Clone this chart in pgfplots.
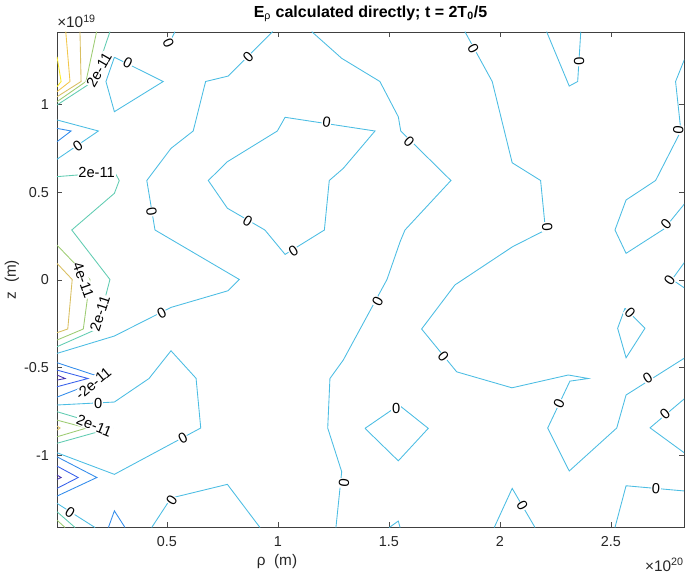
\documentclass[border=0pt]{standalone}
\usepackage{fontspec}
\setmainfont{Liberation Sans}
\usepackage{pgfplots}
\pgfplotsset{compat=1.18}
\definecolor{cm6}{rgb}{0.28,0.20,0.70}
\definecolor{cm4}{rgb}{0.22,0.38,0.92}
\definecolor{cm2}{rgb}{0.20,0.55,0.92}
\definecolor{c0}{rgb}{0.30,0.74,0.89}
\definecolor{c2}{rgb}{0.38,0.80,0.70}
\definecolor{c4}{rgb}{0.62,0.80,0.45}
\definecolor{c6}{rgb}{0.85,0.75,0.38}
\definecolor{c8}{rgb}{0.95,0.78,0.30}
\definecolor{c10}{rgb}{0.98,0.92,0.15}
\tikzset{lb/.style={font=\fontsize{11}{12}\selectfont, fill=white, inner sep=0.5pt, text=black}}
\begin{document}
\begin{tikzpicture}
\begin{axis}[
  scale only axis, width=470.25pt, height=371.25pt,
  xmin=0.0045, xmax=2.829, ymin=-1.407, ymax=1.413,
  xtick={0.5,1,1.5,2,2.5}, xticklabels={0.5,1,1.5,2,2.5},
  ytick={-1,-0.5,0,0.5,1}, yticklabels={-1,-0.5,0,0.5,1},
  tick align=inside, major tick length=4pt,
  axis line style={draw=black!75, line width=0.5pt},
  every tick/.style={draw=black!70, line width=0.5pt},
  tick label style={font=\fontsize{10.8}{12}\selectfont, text=black!85},
  xticklabel style={yshift=-3.5pt},
  yticklabel style={xshift=-2.5pt},
  every axis plot/.append style={line width=0.65pt},
]
% ---- zero contours (cyan)
\addplot[c0] coordinates {(0.976,1.415)(0.776,1.162)(0.674,1.131)(0.618,0.849)(0.518,0.750)(0.409,0.567)(0.446,0.285)(0.826,0.003)(0.775,-0.061)(0.518,-0.156)(0.263,-0.319)(0.0045,-0.418)};
\addplot[c0] coordinates {(1.032,0.927)(1.437,0.849)(1.294,0.636)(1.231,0.567)(1.209,0.285)(1.032,0.146)(0.941,0.285)(0.772,0.409)(0.686,0.567)(0.772,0.674)(0.997,0.849)(1.032,0.927)};
\addplot[c0] coordinates {(1.152,1.415)(1.287,1.263)(1.459,1.131)(1.542,0.930)(1.553,0.849)(1.779,0.567)(1.572,0.285)(1.550,0.218)(1.491,0.003)(1.294,-0.456)(1.234,-0.561)(1.224,-0.843)(1.287,-1.092)(1.261,-1.41)};
\addplot[c0] coordinates {(1.842,1.415)(1.965,1.131)(2.055,0.668)(2.183,0.567)(2.205,0.285)(2.057,0.190)(1.797,-0.028)(1.647,-0.279)(1.805,-0.523)(2.054,-0.614)(2.308,-0.541)(2.398,-0.561)(2.315,-0.576)(2.215,-0.843)(2.312,-1.088)(2.526,-0.843)(2.568,-0.655)(2.833,-0.443)};
\addplot[c0] coordinates {(2.210,1.415)(2.312,1.105)(2.350,1.131)(2.364,1.415)};
\addplot[c0] coordinates {(2.833,1.263)(2.791,1.131)(2.815,0.849)(2.701,0.567)(2.568,0.456)(2.518,0.285)(2.568,0.152)(2.739,0.291)(2.833,0.437)};
\addplot[c0] coordinates {(2.833,0.104)(2.775,0.003)(2.833,-0.047)};
\addplot[c0] coordinates {(2.563,-0.161)(2.653,-0.275)(2.568,-0.443)(2.530,-0.275)(2.563,-0.161)};
\addplot[c0] coordinates {(2.833,-0.674)(2.676,-0.842)(2.833,-0.987)};
\addplot[c0] coordinates {(2.518,-1.41)(2.568,-1.172)(2.833,-1.202)};
\addplot[c0] coordinates {(1.974,-1.41)(2.055,-1.187)(2.158,-1.41)};
\addplot[c0] coordinates {(1.392,-0.845)(1.545,-0.712)(1.677,-0.845)(1.542,-1.030)(1.392,-0.845)};
\addplot[c0] coordinates {(1.501,-1.41)(1.542,-1.373)(1.550,-1.41)};
\addplot[c0] coordinates {(0.0045,-0.712)(0.263,-0.695)(0.419,-0.561)(0.518,-0.403)(0.631,-0.560)(0.652,-0.843)(0.263,-1.107)(0.0045,-0.984)};
\addplot[c0] coordinates {(0.431,-1.41)(0.518,-1.242)(0.772,-1.164)(0.919,-1.41)};
\addplot[c0] coordinates {(0.0045,-1.272)(0.100,-1.349)(0.176,-1.41)};
\addplot[c0] coordinates {(0.263,1.269)(0.225,1.131)(0.263,0.959)(0.483,1.131)(0.263,1.269)};
\addplot[c0] coordinates {(0.536,1.415)(0.522,1.379)};
\addplot[c0] coordinates {(0.0045,0.912)(0.191,0.849)(0.0045,0.688)};
% ---- negative contours
\addplot[cm2] coordinates {(0.0045,0.864)(0.068,0.849)(0.0045,0.788)};
\addplot[cm6] coordinates {(0.0045,-0.541)(0.041,-0.561)(0.0045,-0.570)};
\addplot[cm4] coordinates {(0.0045,-0.513)(0.144,-0.561)(0.0045,-0.608)};
\addplot[cm2] coordinates {(0.0045,-0.471)(0.221,-0.561)(0.0045,-0.667)};
\addplot[cm2] coordinates {(0.0045,-1.007)(0.184,-1.125)(0.0045,-1.231)};
\addplot[cm4] coordinates {(0.0045,-1.060)(0.100,-1.125)(0.0045,-1.187)};
\addplot[cm6] coordinates {(0.0045,-1.111)(0.023,-1.125)(0.0045,-1.136)};
\addplot[cm2] coordinates {(0.236,-1.41)(0.263,-1.315)(0.311,-1.41)};
% ---- positive contours
\addplot[c10] coordinates {(0.0045,1.272)(0.023,1.131)(0.0045,1.101)};
\addplot[c8] coordinates {(0.044,1.415)(0.063,1.131)(0.0045,1.073)};
\addplot[c6] coordinates {(0.108,1.415)(0.113,1.131)(0.0045,1.044)};
\addplot[c4] coordinates {(0.183,1.415)(0.135,1.131)(0.0045,1.016)};
\addplot[c2] coordinates {(0.243,1.415)(0.167,1.131)(0.0045,0.997)};
\addplot[c2] coordinates {(0.0045,0.589)(0.264,0.615)(0.285,0.567)(0.263,0.494)(0.071,0.285)(0.243,0.003)(0.185,-0.279)(0.0045,-0.380)};
\addplot[c4] coordinates {(0.0045,0.199)(0.153,0.003)(0.123,-0.279)(0.0045,-0.342)};
\addplot[c6] coordinates {(0.0045,0.095)(0.073,0.003)(0.053,-0.279)(0.0045,-0.300)};
\addplot[c2] coordinates {(0.0045,-0.750)(0.251,-0.843)(0.0045,-0.930)};
\addplot[c4] coordinates {(0.0045,-0.798)(0.138,-0.843)(0.0045,-0.893)};
\addplot[c6] coordinates {(0.0045,-0.832)(0.018,-0.843)(0.0045,-0.855)};
\addplot[c2] coordinates {(0.0045,-1.320)(0.086,-1.41)};
\addplot[c4] coordinates {(0.0045,-1.368)(0.041,-1.41)};
% ---- labels
\node[lb,rotate=-65] at (axis cs:0.506,1.349) {0};
\node[lb,rotate=-27] at (axis cs:0.324,1.235) {0};
\node[lb,rotate=45] at (axis cs:0.866,1.269) {0};
\node[lb,rotate=-9] at (axis cs:1.219,0.902) {0};
\node[lb,rotate=-44] at (axis cs:1.591,0.788) {0};
\node[lb,rotate=-30] at (axis cs:0.864,0.336) {0};
\node[lb,rotate=32] at (axis cs:1.069,0.167) {0};
\node[lb,rotate=35] at (axis cs:0.098,0.764) {0};
\node[lb,rotate=-80] at (axis cs:0.430,0.389) {0};
\node[lb,rotate=27] at (axis cs:0.476,-0.190) {0};
\node[lb,rotate=61] at (axis cs:1.449,-0.124) {0};
\node[lb,rotate=84] at (axis cs:1.297,-1.158) {0};
\node[lb,rotate=-61] at (axis cs:1.880,1.320) {0};
\node[lb,rotate=-87] at (axis cs:2.357,1.244) {0};
\node[lb,rotate=-85] at (axis cs:2.213,0.304) {0};
\node[lb,rotate=-95] at (axis cs:2.803,0.855) {0};
\node[lb,rotate=48] at (axis cs:2.748,0.319) {0};
\node[lb,rotate=55] at (axis cs:2.764,0.0) {0};
\node[lb,rotate=-51] at (axis cs:1.745,-0.437) {0};
\node[lb,rotate=65] at (axis cs:2.266,-0.703) {0};
\node[lb,rotate=32] at (axis cs:2.665,-0.557) {0};
\node[lb,rotate=-45] at (axis cs:2.586,-0.184) {0};
\node[lb,rotate=40] at (axis cs:2.743,-0.764) {0};
\node[lb,rotate=-3] at (axis cs:2.703,-1.191) {0};
\node[lb,rotate=-60] at (axis cs:2.100,-1.286) {0};
\node[lb] at (axis cs:1.532,-0.729) {0};
\node[lb] at (axis cs:0.190,-0.705) {0};
\node[lb,rotate=28] at (axis cs:0.571,-0.902) {0};
\node[lb,rotate=56] at (axis cs:0.521,-1.254) {0};
\node[lb,rotate=-33] at (axis cs:0.063,-1.326) {0};
\node[lb,rotate=60] at (axis cs:0.194,1.197) {2e-11};
\node[lb] at (axis cs:0.183,0.611) {2e-11};
\node[lb,rotate=-70] at (axis cs:0.123,0.0) {4e-11};
\node[lb,rotate=72] at (axis cs:0.198,-0.190) {2e-11};
\node[lb,rotate=40] at (axis cs:0.168,-0.590) {-2e-11};
\node[lb,rotate=-22] at (axis cs:0.172,-0.830) {2e-11};
\end{axis}
\node[font=\bfseries\fontsize{12}{14}\selectfont, text=black] at ([yshift=13.5pt]current axis.north) {E\textsubscript{\textnormal{ρ}} calculated directly; t = 2T\textsubscript{0}/5};
\node[font=\fontsize{11.5}{13}\selectfont, text=black!85] at ([xshift=165pt,yshift=-26.25pt]current axis.south west) {ρ\ \ (m)};
\node[rotate=90, font=\fontsize{11.5}{13}\selectfont, text=black!85] at ([xshift=-33.75pt]current axis.west) {z\ \ (m)};
\node[anchor=base west, inner sep=0pt, font=\fontsize{11.5}{13}\selectfont, text=black!85] at ([yshift=3pt]current axis.north west) {×10\textsuperscript{19}};
\node[anchor=base east, inner sep=0pt, font=\fontsize{11.5}{13}\selectfont, text=black!85] at ([yshift=-33pt]current axis.south east) {×10\textsuperscript{20}};
\pgfresetboundingbox
\path ([xshift=-42.75pt,yshift=-34.5pt]current axis.south west) rectangle ([xshift=0.75pt,yshift=24pt]current axis.north east);
\end{tikzpicture}
\end{document}
